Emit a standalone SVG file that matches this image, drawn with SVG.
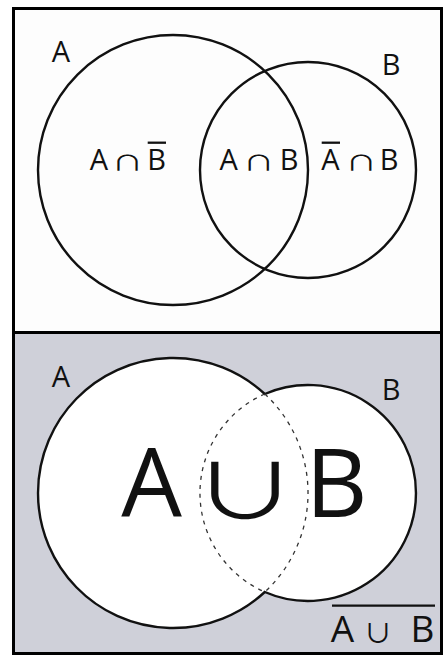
<svg xmlns="http://www.w3.org/2000/svg" width="445" height="656" viewBox="0 0 445 656">
<style>
.lbl{font-family:"Open Sans","DejaVu Sans",sans-serif;fill:#111;text-anchor:middle}
.sym{font-family:"Noto Sans CJK JP","DejaVu Sans",sans-serif;fill:#111;text-anchor:middle}
.circ{fill:none;stroke:#111;stroke-width:2.4}
.bar{stroke:#111;stroke-width:2.3}
.dash{fill:none;stroke:#333;stroke-width:1.3;stroke-dasharray:4 5}
</style>
<rect width="445" height="656" fill="#ffffff"/>
<g id="top-panel">
<rect x="13.5" y="8.5" width="428" height="324" fill="#fdfdfd" stroke="#000" stroke-width="3"/>
</g>
<g id="bottom-panel">
<rect x="13.5" y="332.5" width="428" height="321" fill="#cfd0d9" stroke="#000" stroke-width="3"/>
</g>
<g id="top-circle-A"><circle class="circ" cx="173" cy="170" r="135"/><text class="lbl" x="61" y="62" font-size="29">A</text></g>
<g id="top-circle-B"><circle class="circ" cx="308" cy="170" r="108"/><text class="lbl" x="391" y="75" font-size="29">B</text></g>
<g id="top-region-labels">
<text class="lbl" x="99" y="170" font-size="29">A</text>
<text class="sym" transform="translate(127.5,169.5) scale(1.05,0.7)" font-size="30">∩</text>
<text class="lbl" x="156.5" y="170" font-size="29">B</text>
<line class="bar" x1="147.7" y1="142.7" x2="166" y2="142.7"/>
<text class="lbl" x="228.7" y="170" font-size="29">A</text>
<text class="sym" transform="translate(258.7,169.5) scale(1.05,0.7)" font-size="30">∩</text>
<text class="lbl" x="289" y="170" font-size="29">B</text>
<text class="lbl" x="330.3" y="170" font-size="29">A</text>
<line class="bar" x1="321.7" y1="142.7" x2="340" y2="142.7"/>
<text class="sym" transform="translate(361.3,169.5) scale(1.05,0.7)" font-size="30">∩</text>
<text class="lbl" x="389" y="170" font-size="29">B</text>
</g>
<g id="union-shape">
<path d="M264.8,394 A135,135 0 1 0 264.8,592 A108,108 0 1 0 264.8,394 Z" fill="#fff" stroke="#111" stroke-width="2.4"/>
<path class="dash" d="M264.8,394 A135,135 0 0 1 264.8,592 M264.8,394 A108,108 0 0 0 264.8,592"/>
<text class="lbl" x="61" y="387" font-size="29">A</text>
<text class="lbl" x="391" y="400" font-size="29">B</text>
</g>
<g id="union-label">
<text class="lbl" x="151.5" y="517" font-size="96">A</text>
<text class="sym" transform="translate(245,519) scale(1.05,0.76)" font-size="100">∪</text>
<text class="lbl" x="336.5" y="517" font-size="96">B</text>
</g>
<g id="complement-label">
<line class="bar" x1="332" y1="605.7" x2="435" y2="605.7"/>
<text class="lbl" x="342.5" y="642" font-size="37">A</text>
<text class="sym" transform="translate(378,643) scale(1,0.9)" font-size="29">∪</text>
<text class="lbl" x="422.5" y="642" font-size="37">B</text>
</g>
</svg>
